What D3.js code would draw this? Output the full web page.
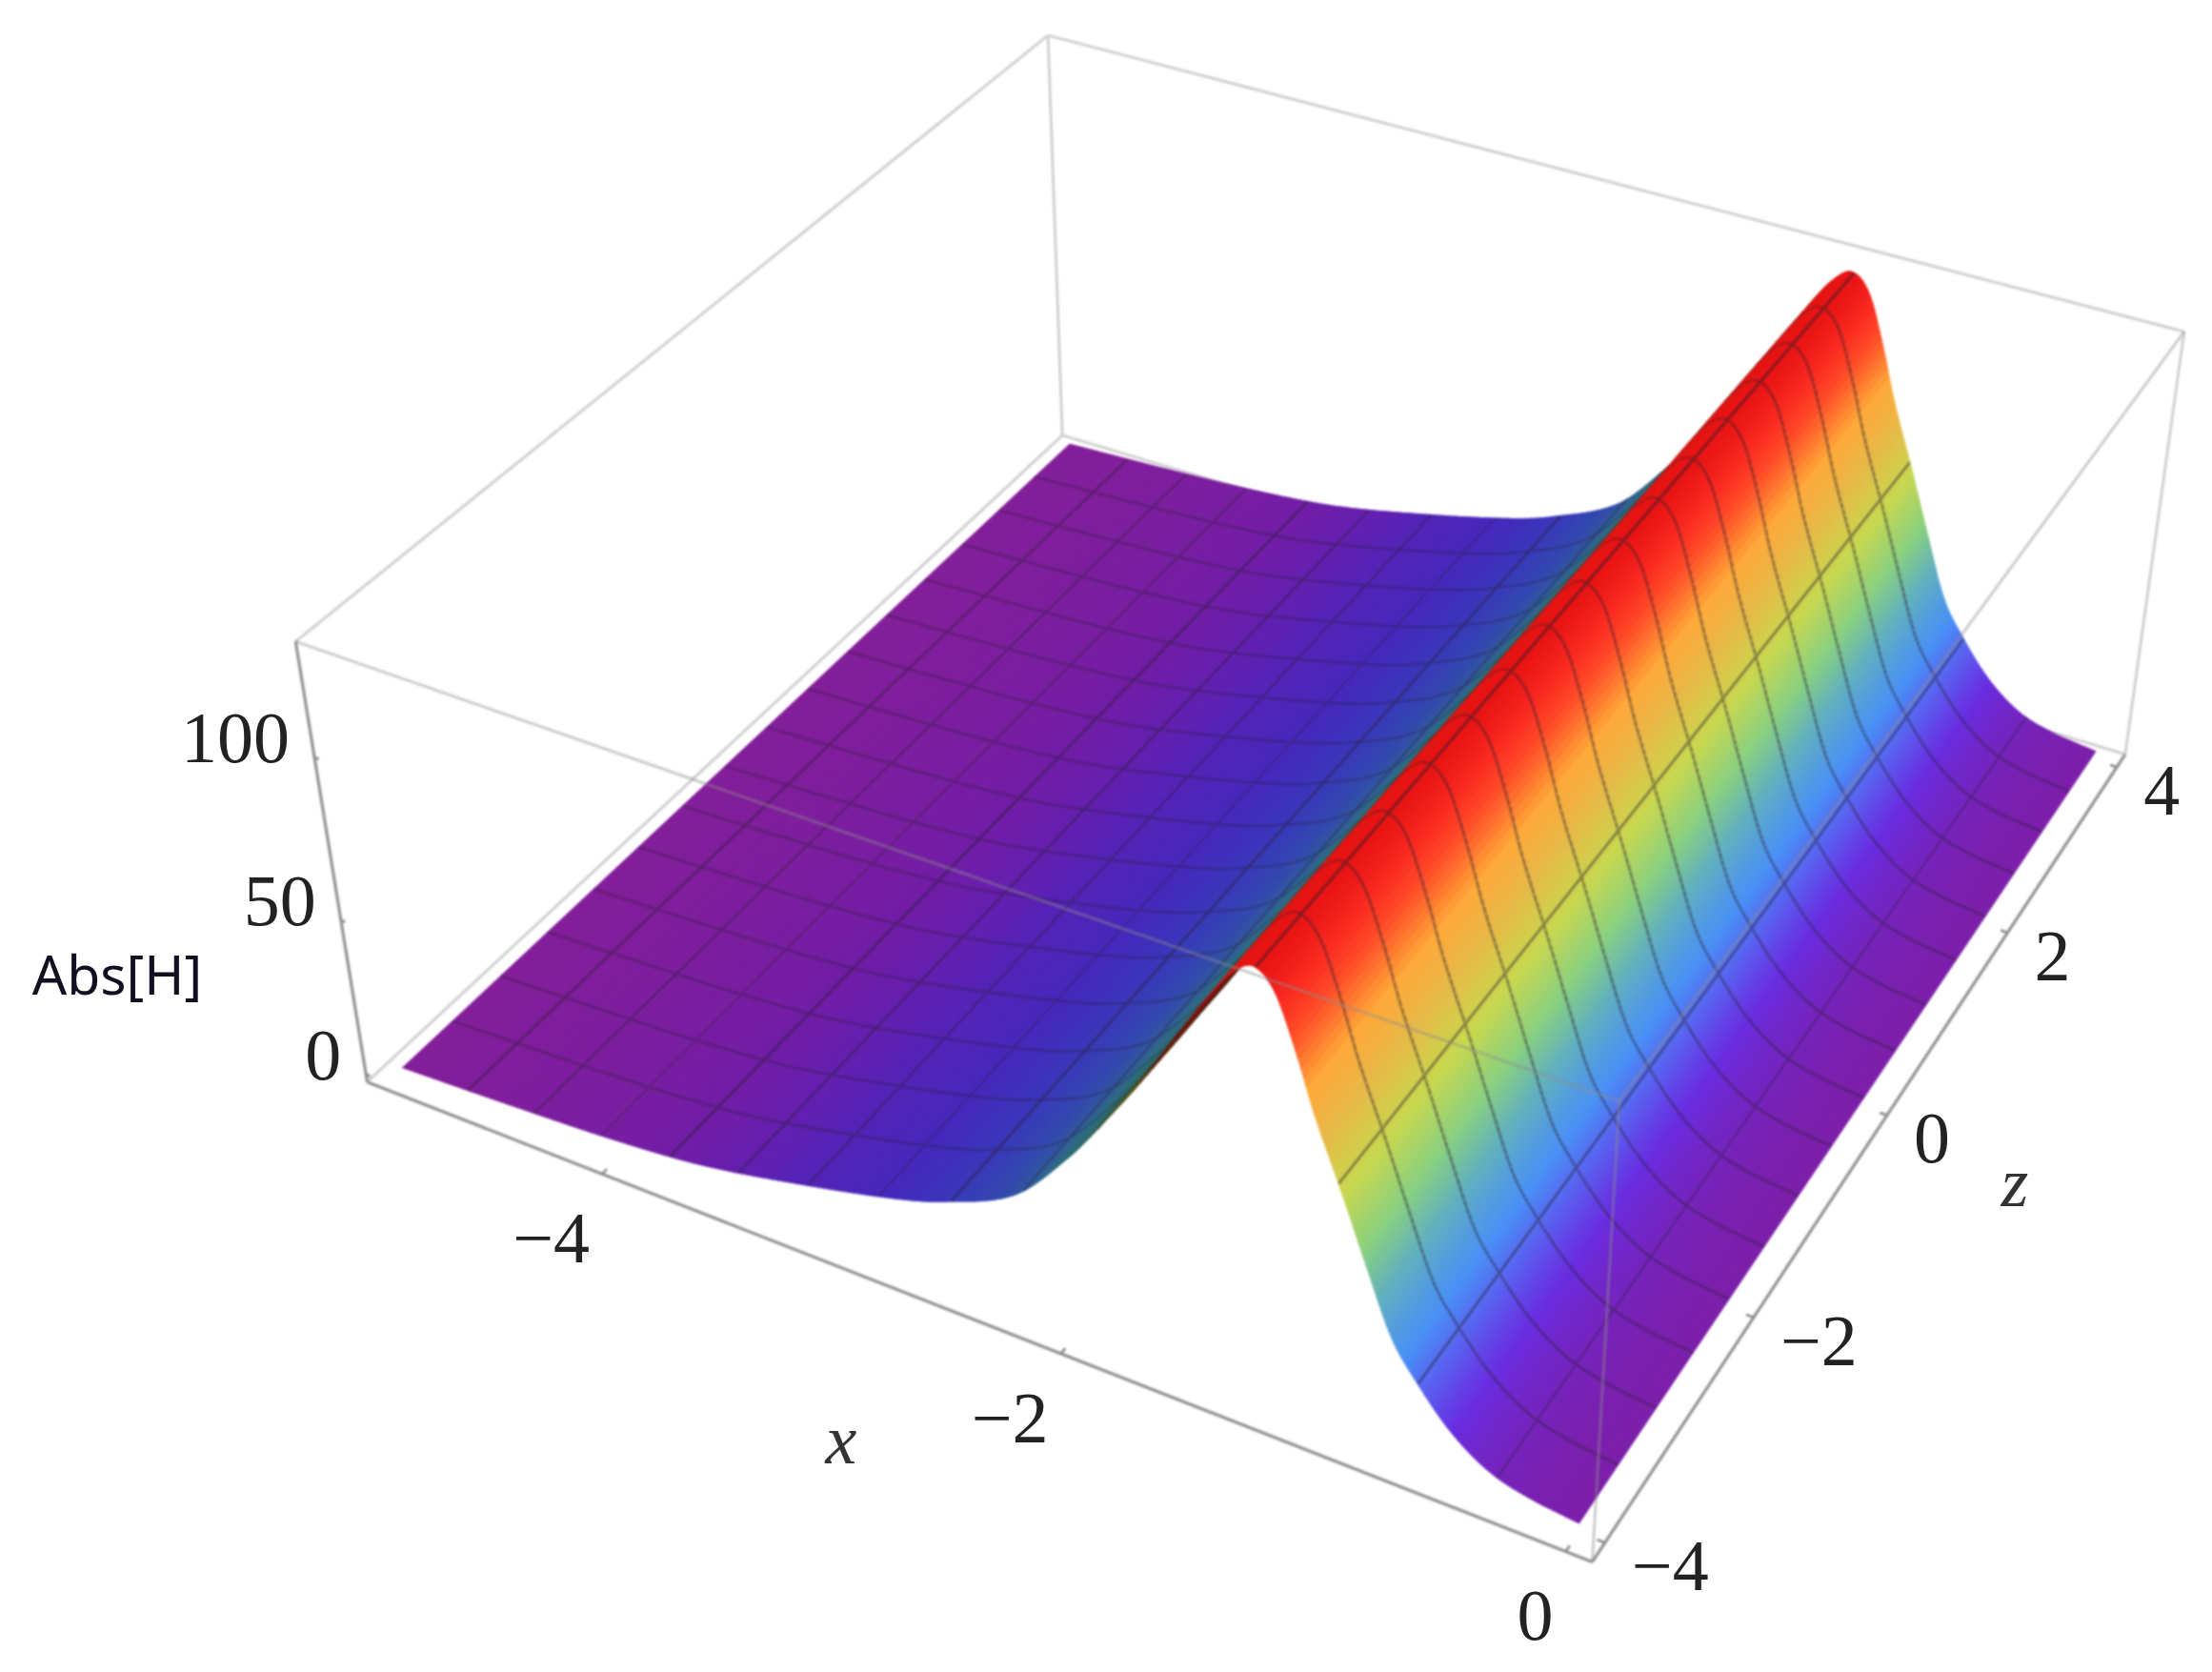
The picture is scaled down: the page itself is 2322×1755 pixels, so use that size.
<!DOCTYPE html>
<html><head><meta charset="utf-8">
<style>html,body{margin:0;background:#fff}svg{display:block}</style>
<script src="https://cdnjs.cloudflare.com/ajax/libs/d3/7.8.5/d3.min.js"></script>
</head><body><svg id="c" width="2322" height="1755"></svg>
<script>
// ---- data ----
const profileX = [-5,-4.5,-4,-3.6,-3.15,-2.75,-2.54,-2.23,-2.0,-1.84,-1.7,-1.55,-1.42,-1.34,-1.26,-1.18,-1.1,-1.03,-0.92,-0.83,-0.73,-0.64,-0.5,-0.35,-0.2,0];
const profileH = [0,1.5,3.5,6.5,13,20,25,36,54,70,85,103,118,126,130,125,110,94,73,55,36,26,14,6,2.5,0.5];
const xTicks = [-4,-2,0], zTicks = [-4,-2,0,2,4], hTicks = [0,50,100];
const colorStops = [0,13,22,30,45,58,73,88,100,114,122,130];
const colorValues = ["#7d1fa8","#6a2de0","#5a60f0","#4a90f5","#60b0c0","#8ad080","#c8d850","#e8b848","#ffa838","#ff4a28","#fa2a20","#e81414"];
const backStops = [0,6.5,12,19,25,32,45,60,78,92,110,124,130];
const backValues = ["#841f9a","#6c1eab","#5723b6","#4629bc","#3b36bb","#3448b0","#2f6a88","#2e6c68","#5a5a14","#641e0e","#8a1414","#d81a14","#e81414"];
const xDomain=[-5.1,0.1], zDomain=[-4.16,4.16], hDomain=[-2.5,134];
const xCells=16, zCells=16;
const crestX=-1.26;

// box corners on the page: [x01, z01, h01, px, py]
const boxCorners=[[0,0,0,385,1136],[1,0,0,1672,1640],[1,1,0,2230,791],[0,1,0,1116,457],
                  [0,0,1,311,673],[1,0,1,1699,1155],[1,1,1,2294,349],[0,1,1,1099,37]];

const xS=d3.scaleLinear().domain(xDomain).range([0,1]);
const zS=d3.scaleLinear().domain(zDomain).range([0,1]);
const hS=d3.scaleLinear().domain(hDomain).range([0,1]);

function fit(){
  const A=[],b=[];
  boxCorners.forEach(([X,Z,Y,u,v])=>{
    A.push([X,Z,Y,1,0,0,0,0,-u*X,-u*Z,-u*Y]);b.push(u);
    A.push([0,0,0,0,X,Z,Y,1,-v*X,-v*Z,-v*Y]);b.push(v);
  });
  const n=11,M=d3.range(n).map(i=>d3.range(n+1).map(j=>
    j<n?d3.sum(A,r=>r[i]*r[j]):d3.sum(A,(r,k)=>r[i]*b[k])));
  for(let i=0;i<n;i++){
    let p=i;for(let r=i+1;r<n;r++)if(Math.abs(M[r][i])>Math.abs(M[p][i]))p=r;
    [M[i],M[p]]=[M[p],M[i]];
    for(let r=0;r<n;r++)if(r!==i){const f=M[r][i]/M[i][i];for(let c=i;c<=n;c++)M[r][c]-=f*M[i][c];}
  }
  return M.map((r,i)=>r[n]/r[i]);
}
const m=fit();
function project(x,z,h){
  const X=xS(x),Z=zS(z),Y=hS(h),w=m[8]*X+m[9]*Z+m[10]*Y+1;
  return [(m[0]*X+m[1]*Z+m[2]*Y+m[3])/w,(m[4]*X+m[5]*Z+m[6]*Y+m[7])/w];
}

const tang=profileX.map((x,i)=>{
  const L=profileX.length-1;
  if(i===0)return (profileH[1]-profileH[0])/(profileX[1]-profileX[0]);
  if(i===L)return (profileH[L]-profileH[L-1])/(profileX[L]-profileX[L-1]);
  return (profileH[i+1]-profileH[i-1])/(profileX[i+1]-profileX[i-1]);
});
function heightAt(x){
  let i=d3.bisectRight(profileX,x)-1;i=Math.max(0,Math.min(i,profileX.length-2));
  const d=profileX[i+1]-profileX[i],t=(x-profileX[i])/d,t2=t*t,t3=t2*t;
  return (2*t3-3*t2+1)*profileH[i]+(t3-2*t2+t)*d*tang[i]+(-2*t3+3*t2)*profileH[i+1]+(t3-t2)*d*tang[i+1];
}
const colorFront=d3.scaleLinear().domain(colorStops).range(colorValues).interpolate(d3.interpolateRgb).clamp(true);
const colorBack=d3.scaleLinear().domain(backStops).range(backValues).interpolate(d3.interpolateRgb).clamp(true);

const svg=d3.select("#c");
const defs=svg.append("defs");
const flt=(id,s)=>defs.append("filter").attr("id",id).attr("filterUnits","userSpaceOnUse")
  .attr("x",0).attr("y",0).attr("width",2322).attr("height",1755).attr("color-interpolation-filters","sRGB")
  .append("feGaussianBlur").attr("stdDeviation",s);
flt("soft",1.1);flt("softT",0.7);

const line=pts=>"M"+pts.map(p=>p[0].toFixed(1)+","+p[1].toFixed(1)).join("L");
const zLo=-4,zHi=4;
const boxG=svg.append("g").attr("filter","url(#soft)").attr("fill","none");
const c=(a,b,d)=>project(xDomain[a],zDomain[b],hDomain[d]);
[[c(0,0,0),c(0,1,0)],[c(0,1,0),c(1,1,0)],[c(0,1,0),c(0,1,1)],[c(0,0,1),c(0,1,1)],[c(0,1,1),c(1,1,1)],[c(1,1,0),c(1,1,1)]]
 .forEach(s=>boxG.append("path").attr("d",line(s)).attr("stroke","#d0d0d0").attr("stroke-width",3));

const N=500,xMesh=d3.range(1,xCells).map(k=>-5+k*5/xCells),zMesh=d3.range(1,zCells).map(k=>-4+k*8/zCells);
const dx=5/N;
const strips=d3.range(N).map(i=>{
  const x0=-5+i*dx,x1=x0+dx,h0=heightAt(x0),h1=heightAt(x1);
  const hm=(h0+h1)/2,col=d3.rgb(x0<crestX?colorBack(hm):colorFront(hm)).formatHex();
  const quad=[project(x0,zLo,h0),project(x1,zLo,h1),project(x1,zHi,h1),project(x0,zHi,h0)];
  let mesh=zMesh.map(z=>line([project(x0,z,h0),project(x1,z,h1)])).join("");
  xMesh.forEach(xm=>{if(xm>=x0&&xm<x1)mesh+=line([project(xm,zLo,heightAt(xm)),project(xm,zHi,heightAt(xm))]);});
  return {quad,col,mesh};
});
const surf=svg.append("g").attr("filter","url(#soft)");
const prims=strips.flatMap(s=>[{d:line(s.quad)+"Z",fill:s.col,stroke:s.col,sw:1.2,op:1},{d:s.mesh,fill:"none",stroke:"#2a2030",sw:2.8,op:0.45}]);
surf.selectAll("path").data(prims).join("path")
  .attr("d",d=>d.d).attr("fill",d=>d.fill).attr("stroke",d=>d.stroke).attr("stroke-width",d=>d.sw).attr("stroke-opacity",d=>d.op);

const frontG=svg.append("g").attr("filter","url(#soft)").attr("fill","none");
[[c(0,0,1),c(1,0,1)],[c(1,0,1),c(1,1,1)],[c(1,0,0),c(1,0,1)]].forEach(s=>
  frontG.append("path").attr("d",line(s)).attr("stroke","#8f8f8f").attr("stroke-opacity",0.45).attr("stroke-width",3));
[[c(0,0,0),c(1,0,0)],[c(1,0,0),c(1,1,0)],[c(0,0,0),c(0,0,1)]].forEach(s=>
  frontG.append("path").attr("d",line(s)).attr("stroke","#929292").attr("stroke-width",3.2));

const ticks=[],labels=[];
const fmt=v=>(v<0?"\u2212":"")+Math.abs(v);
xTicks.forEach(v=>{const p=project(v,zDomain[0],hDomain[0]),q=project(v,zDomain[0]+0.05,hDomain[0]);ticks.push([p,q]);
  labels.push({t:fmt(v),x:p[0]-13,y:p[1]+67,a:"end"});});
zTicks.forEach(v=>{const p=project(xDomain[1],v,hDomain[0]),q=project(xDomain[1]-0.03,v,hDomain[0]);ticks.push([p,q]);
  labels.push({t:fmt(v),x:p[0]+28,y:p[1]+24,a:"start"});});
hTicks.forEach(v=>{const p=project(xDomain[0],zDomain[0],v),q=project(xDomain[0]+0.02,zDomain[0],v);ticks.push([p,q]);
  labels.push({t:fmt(v),x:p[0]-26,y:p[1]-21,a:"end"});});
ticks.forEach(s=>frontG.append("path").attr("d",line(s)).attr("stroke","#8a8a8a").attr("stroke-width",2.6));
const tG=svg.append("g").attr("filter","url(#softT)");
tG.selectAll("text.t").data(labels).join("text").attr("class","t")
  .attr("x",d=>d.x).attr("y",d=>d.y).attr("text-anchor",d=>d.a).attr("dominant-baseline","central")
  .attr("font-family","'Liberation Serif',serif").attr("font-size",76).attr("fill","#222").text(d=>d.t);
const axisNames=[{t:"x",x:883,y:1511},{t:"z",x:2115,y:1241}];
tG.selectAll("text.n").data(axisNames).join("text").attr("class","n")
  .attr("x",d=>d.x).attr("y",d=>d.y).attr("text-anchor","middle").attr("dominant-baseline","central")
  .attr("font-family","'Liberation Serif',serif").attr("font-style","italic").attr("font-size",74).attr("fill","#333").text(d=>d.t);
svg.append("text").attr("x",123).attr("y",1022).attr("text-anchor","middle").attr("dominant-baseline","central")
  .attr("font-family","'Noto Sans',sans-serif").attr("font-size",57).attr("fill","#101020").text("Abs[H]");
</script></body></html>
